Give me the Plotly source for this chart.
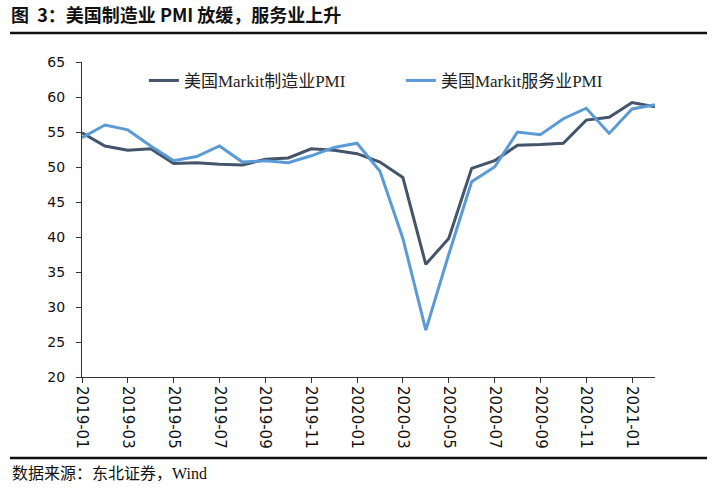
import plotly.graph_objects as go

months = ["2019-01","2019-02","2019-03","2019-04","2019-05","2019-06","2019-07","2019-08","2019-09","2019-10","2019-11","2019-12",
          "2020-01","2020-02","2020-03","2020-04","2020-05","2020-06","2020-07","2020-08","2020-09","2020-10","2020-11","2020-12",
          "2021-01","2021-02"]
manufacturing = [54.9,53.0,52.4,52.6,50.5,50.6,50.4,50.3,51.1,51.3,52.6,52.4,
                 51.9,50.7,48.5,36.1,39.8,49.8,50.9,53.1,53.2,53.4,56.7,57.1,
                 59.2,58.6]
services = [54.2,56.0,55.3,53.0,50.9,51.5,53.0,50.7,50.9,50.6,51.6,52.8,
            53.4,49.4,39.8,26.7,37.5,47.9,50.0,55.0,54.6,56.9,58.4,54.8,
            58.3,58.9]
tick_labels = months[::2]
y_ticks = [20,25,30,35,40,45,50,55,60,65]

title = "图  3：美国制造业 PMI 放缓，服务业上升"
source = "数据来源：东北证券，Wind"

serif = "Liberation Serif, Noto Sans CJK SC"
sans = "DejaVu Sans, Noto Sans CJK SC"

fig = go.Figure()
fig.add_trace(go.Scatter(x=months, y=manufacturing, mode="lines", name="美国Markit制造业PMI",
                         line=dict(color="#44546A", width=3)))
fig.add_trace(go.Scatter(x=months, y=services, mode="lines", name="美国Markit服务业PMI",
                         line=dict(color="#5B9BD5", width=3)))

fig.update_layout(
    width=722, height=496,
    margin=dict(l=82, r=67, t=62, b=119),
    paper_bgcolor="white", plot_bgcolor="white",
    showlegend=True,
    legend=dict(orientation="h", x=0.108, xanchor="left", y=0.94, yanchor="middle",
                font=dict(family=serif, size=17, color="#222"),
                entrywidth=212, entrywidthmode="pixels", bgcolor="rgba(0,0,0,0)"),
    xaxis=dict(type="category", range=[0, len(months)-1], tickmode="array",
               tickvals=tick_labels, ticktext=tick_labels, tickangle=90,
               showline=True, linecolor="#333", linewidth=1, ticks="outside", ticklen=5, tickcolor="#333",
               showgrid=False, zeroline=False,
               tickfont=dict(family=sans, size=15, color="#111")),
    yaxis=dict(range=[20, 65], tickvals=y_ticks, showline=True, linecolor="#333", linewidth=1,
               ticks="outside", ticklen=5, tickcolor="#333", showgrid=False, zeroline=False,
               ticklabelstandoff=8,
               tickfont=dict(family=sans, size=14, color="#111")),
    annotations=[
        dict(text="<b>" + title + "</b>", xref="paper", yref="paper", x=-0.128, y=1.152,
             xanchor="left", yanchor="middle", showarrow=False,
             font=dict(family="Noto Sans CJK SC, Liberation Serif", size=18, color="#111")),
        dict(text=source, xref="paper", yref="paper", x=-0.125, y=-0.305,
             xanchor="left", yanchor="middle", showarrow=False,
             font=dict(family="Liberation Serif, Noto Sans CJK SC", size=16, color="#111")),
    ],
    shapes=[
        dict(type="line", xref="paper", yref="paper", x0=-0.1257, x1=1.0908, y0=1.092, y1=1.092,
             line=dict(color="#111", width=2.5)),
        dict(type="line", xref="paper", yref="paper", x0=-0.1257, x1=1.0908, y0=-0.257, y1=-0.257,
             line=dict(color="#111", width=2.5)),
    ],
)

fig.write_html("out.html", config={"displayModeBar": False},
               post_script="document.body.style.margin='0';")
